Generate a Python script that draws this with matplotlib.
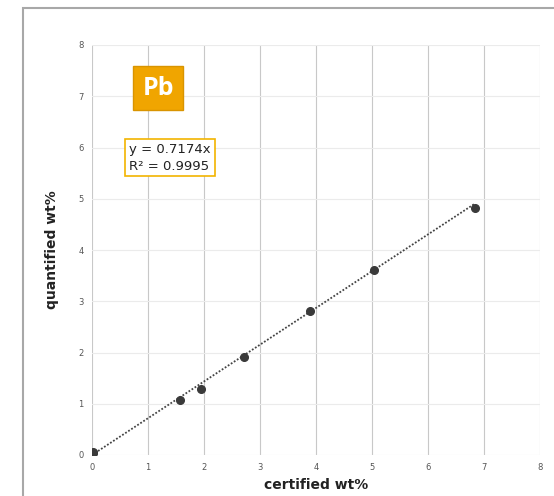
import matplotlib.pyplot as plt
from matplotlib.patches import Rectangle

# Data
certified = [0.0, 0.02, 0.01, 1.57, 1.95, 2.71, 3.89, 5.04, 6.84]
quantified = [0.0, 0.03, 0.06, 1.07, 1.29, 1.91, 2.81, 3.61, 4.82]
slope = 0.7174
r2 = 0.9995
element = "Pb"
ticks = [0, 1, 2, 3, 4, 5, 6, 7, 8]

fig = plt.figure(figsize=(5.54, 4.96), dpi=100)
fig.patches.append(Rectangle((23 / 554, -0.05), 1.1, 1 - 8 / 496 + 0.05,
                             transform=fig.transFigure, fill=False,
                             edgecolor='#a8a8a8', linewidth=1.5))

ax = fig.add_axes([92 / 554, 1 - 455 / 496, (540 - 92) / 554, (455 - 45) / 496])
for s in ax.spines.values():
    s.set_visible(False)
ax.set_xlim(0, 8)
ax.set_ylim(0, 8)
ax.set_xticks(ticks)
ax.set_yticks(ticks)
ax.tick_params(length=0, labelsize=6, labelcolor='#555555', pad=6)
ax.xaxis.grid(True, color='#c8c8c8', linewidth=0.8)
ax.yaxis.grid(True, color='#ebebeb', linewidth=0.8)
ax.set_axisbelow(True)

# trendline through origin
x_end = max(certified)
ax.plot([0, x_end], [0, slope * x_end], linestyle=(0, (1, 1)), color='#444444', linewidth=1.3)
ax.plot(certified, quantified, 'o', color='#3a3a3a', markersize=5.5, zorder=3)

ax.set_xlabel('certified wt%', fontsize=10, fontweight='bold', color='#222222', labelpad=4)
ax.set_ylabel('quantified wt%', fontsize=10, fontweight='bold', color='#222222', labelpad=14)

ax.text(1.18, 7.16, element, fontsize=18, fontweight='bold', color='white',
        family='Open Sans', ha='center', va='center',
        bbox=dict(boxstyle='square,pad=0.38', facecolor='#f0a500', edgecolor='#d99400'))
ax.text(0.66, 5.8, 'y = %.4fx\nR² = %.4f' % (slope, r2), fontsize=9.5, color='#222222',
        ha='left', va='center', linespacing=1.35,
        bbox=dict(boxstyle='square,pad=0.3', facecolor='white', edgecolor='#f2b400', linewidth=1.2))

fig.savefig('out.png', dpi=100)
